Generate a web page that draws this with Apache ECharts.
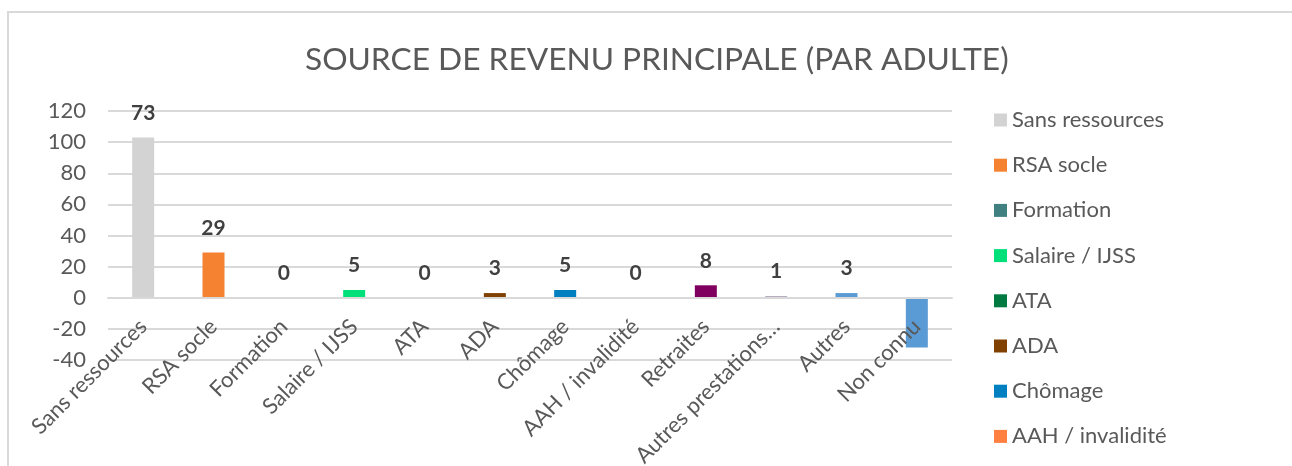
<!DOCTYPE html>
<html>
<head>
<meta charset="utf-8">
<script src="https://cdn.jsdelivr.net/npm/echarts@6/dist/echarts.min.js"></script>
<style>
  html, body { margin: 0; padding: 0; background: #fff; }
  #chart { width: 1292px; height: 466px; }
</style>
</head>
<body>
<div id="chart"></div>
<script>
// categories as shown on the x axis
var categories = ['Sans ressources', 'RSA socle', 'Formation', 'Salaire / IJSS', 'ATA', 'ADA',
    'Chômage', 'AAH / invalidité', 'Retraites', 'Autres prestations…', 'Autres', 'Non connu'];
// bar heights
var values = [103, 29, 0, 5, 0, 3, 5, 0, 8, 1, 3, -32];
// data labels printed above the bars
var labels = ['73', '29', '0', '5', '0', '3', '5', '0', '8', '1', '3', ''];
var colors = ['#d3d3d3', '#f58231', '#408080', '#00e07a', '#007a40', '#804000',
    '#0080c0', '#ff8040', '#800060', '#a898b0', '#5b9bd5', '#5b9bd5'];
// the legend only fits the first eight entries
var legendItems = categories.slice(0, 8);
var yTicks = {min: -40, max: 120, step: 20};

var font = 'Lato, "Open Sans", sans-serif';

var series = categories.map(function (name, i) {
    var d = categories.map(function (c, j) { return j === i ? values[i] : '-'; });
    return {
        name: name,
        type: 'bar',
        stack: 'all',
        barWidth: 22,
        data: d,
        itemStyle: {color: colors[i]},
        label: {
            show: true,
            position: 'top',
            distance: 14,
            fontFamily: font,
            fontSize: 21,
            fontWeight: 'bold',
            color: '#404040',
            formatter: function (p) { return labels[p.dataIndex]; }
        }
    };
});

var chart = echarts.init(document.getElementById('chart'));
chart.setOption({
    animation: false,
    title: {
        text: 'SOURCE DE REVENU PRINCIPALE (PAR ADULTE)',
        left: 300,
        top: 39,
        textStyle: {fontFamily: font, fontSize: 31.7, fontWeight: 'normal', color: '#595959'}
    },
    legend: {
        orient: 'vertical',
        left: 994,
        top: 109,
        padding: 0,
        itemWidth: 13,
        itemHeight: 13,
        itemGap: 23.2,
        icon: 'rect',
        data: legendItems,
        textStyle: {fontFamily: font, fontSize: 22, lineHeight: 22, color: '#595959'}
    },
    grid: {left: 108, right: 340, top: 111, bottom: 106, outerBoundsMode: 'none'},
    xAxis: {
        type: 'category',
        data: categories,
        // the category axis sits on the zero line
        offset: -62,
        z: 5,
        axisTick: {show: false},
        axisLine: {onZero: false, lineStyle: {color: '#d9d9d9', width: 2}},
        axisLabel: {
            interval: 0,
            rotate: 45,
            margin: 25,
            fontFamily: font,
            fontSize: 22,
            color: '#595959'
        }
    },
    yAxis: {
        type: 'value',
        min: yTicks.min,
        max: yTicks.max,
        interval: yTicks.step,
        axisLine: {show: false},
        axisTick: {show: false},
        splitLine: {lineStyle: {color: '#d9d9d9', width: 2}},
        axisLabel: {margin: 22, fontFamily: font, fontSize: 22, color: '#595959'}
    },
    graphic: [{
        type: 'rect',
        shape: {x: 8, y: 12, width: 1400, height: 600},
        style: {fill: null, stroke: '#d9d9d9', lineWidth: 2},
        silent: true
    }],
    series: series
});
</script>
</body>
</html>
